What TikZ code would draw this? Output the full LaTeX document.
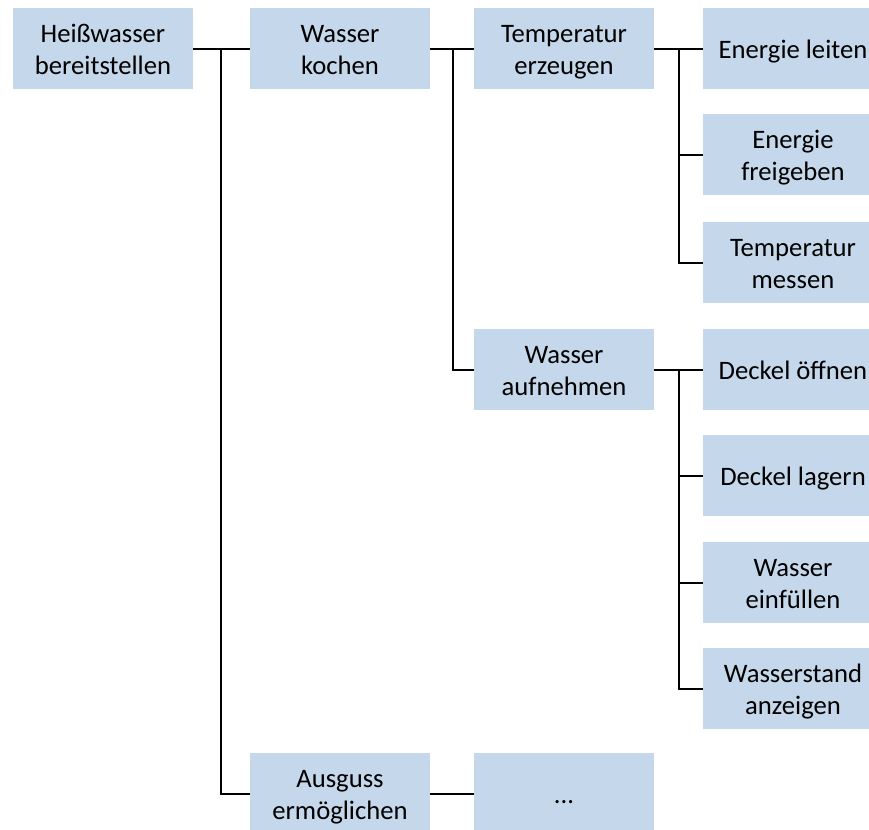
\documentclass[tikz,border=0pt]{standalone}
\usepackage{fontspec}
\setmainfont{Carlito}
\definecolor{boxfill}{RGB}{197,216,235}
% line strut, a little taller above the baseline than below
\newcommand\fstrut{\vrule width 0pt height 19pt depth 5pt}
\begin{document}
\begin{tikzpicture}[x=0.75pt,y=-0.75pt,
  fn/.style={fill=boxfill,draw=none,minimum width=135pt,minimum height=60.75pt,
    inner sep=0pt,align=center,font=\fontsize{20}{24}\selectfont},
  link/.style={line width=2pt,black}]
\useasboundingbox (0,0) rectangle (869,830);
% function boxes
\node[fn] (heiss)   at (103,49)  {\fstrut Heißwasser\\\fstrut bereitstellen};
\node[fn] (kochen)  at (340,49)  {\fstrut Wasser\\\fstrut kochen};
\node[fn] (temp)    at (564,49)  {\fstrut Temperatur\\\fstrut erzeugen};
\node[fn] (eleit)   at (793,49)  {\fstrut Energie leiten};
\node[fn] (efrei)   at (793,155) {\fstrut Energie\\\fstrut freigeben};
\node[fn] (tmess)   at (793,263) {\fstrut Temperatur\\\fstrut messen};
\node[fn] (aufn)    at (564,370) {\fstrut Wasser\\\fstrut aufnehmen};
\node[fn] (oeff)    at (793,370) {\fstrut Deckel öffnen};
\node[fn] (lager)   at (793,476) {\fstrut Deckel lagern};
\node[fn] (einf)    at (793,583) {\fstrut Wasser\\\fstrut einfüllen};
\node[fn] (wstand)  at (793,689) {\fstrut Wasserstand\\\fstrut anzeigen};
\node[fn] (ausg)    at (340,794) {\fstrut Ausguss\\\fstrut ermöglichen};
\node[fn] (dots)    at (564,794) {\fstrut ...};
% branch points
\coordinate (j1) at (221,49);
\coordinate (j2) at (453,49);
\coordinate (j3) at (679,49);
\coordinate (j4) at (679,370);
% connectors
\draw[link] (heiss.east) -- (kochen.west);
\draw[link] (j1) |- (ausg.west);
\draw[link] (kochen.east) -- (temp.west);
\draw[link] (j2) |- (aufn.west);
\draw[link] (temp.east) -- (eleit.west);
\draw[link] (j3) |- (tmess.west);
\draw[link] (j3 |- efrei.west) -- (efrei.west);
\draw[link] (aufn.east) -- (oeff.west);
\draw[link] (j4) |- (wstand.west);
\draw[link] (j4 |- lager.west) -- (lager.west);
\draw[link] (j4 |- einf.west) -- (einf.west);
\draw[link] (ausg.east) -- (dots.west);
\end{tikzpicture}
\end{document}
